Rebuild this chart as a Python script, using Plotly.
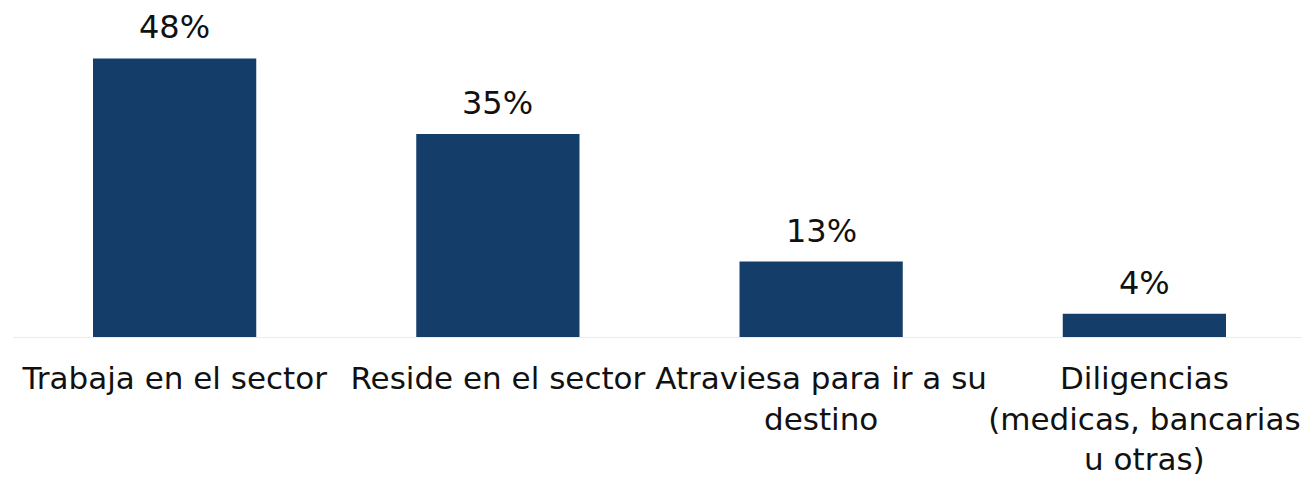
import plotly.graph_objects as go

categorias = [
    "Trabaja en el sector",
    "Reside en el sector",
    "Atraviesa para ir a su<br>destino",
    "Diligencias<br>(medicas, bancarias<br>u otras)",
]
porcentajes = [48, 35, 13, 4]
etiquetas = ["48%", "35%", "13%", "4%"]

fig = go.Figure()
fig.add_trace(go.Bar(
    x=categorias,
    y=porcentajes,
    marker=dict(color="#143e69", line=dict(width=0)),
    hoverinfo="skip",
))

for cat, val, txt in zip(categorias, porcentajes, etiquetas):
    fig.add_annotation(
        x=cat, y=val, text=txt, showarrow=False,
        yanchor="bottom", yshift=11, borderpad=0,
        font=dict(family="DejaVu Sans", size=32, color="#111111"),
    )

# la pagina tiene 8px de margen en el body
fig.update_layout(
    width=1302,
    height=469,
    margin=dict(l=5, r=4, t=0, b=140),
    paper_bgcolor="white",
    plot_bgcolor="white",
    bargap=0.495,
    showlegend=False,
    font=dict(family="DejaVu Sans", size=31, color="#111111"),
)
fig.update_xaxes(
    automargin=False,
    tickangle=0,
    showline=True, linecolor="#ececec", linewidth=1,
    ticks="outside", ticklen=14, tickcolor="rgba(0,0,0,0)",
    tickfont=dict(size=31),
)
fig.update_yaxes(range=[0, 56.7], visible=False, showgrid=False, zeroline=False)

fig.write_html("out.html")
